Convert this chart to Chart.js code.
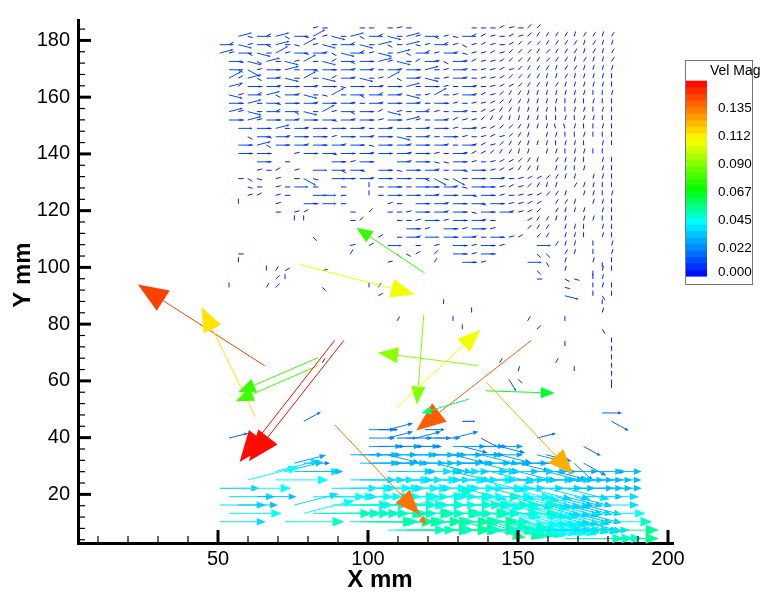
<!DOCTYPE html>
<html>
<head>
<meta charset="utf-8">
<title>Vel Mag</title>
<script src="https://cdn.jsdelivr.net/npm/chart.js@4.4.1/dist/chart.umd.min.js"></script>
<style>
  html, body { margin: 0; padding: 0; background: #fff; }
  #wrap { width: 765px; height: 598px; }
</style>
</head>
<body>
<div id="wrap"><canvas id="vec" width="765" height="598"></canvas></div>
<script>
// axes (mm)
const X_RANGE = [3.33, 201.67];
const Y_RANGE = [2.86, 187.2];
const X_TICKS = [50, 100, 150, 200];
const Y_TICKS = [20, 40, 60, 80, 100, 120, 140, 160, 180];
const X_MINOR = 10;
const Y_MINOR = 4;

// PIV grid nodes
const GRID_X0 = 50.57, GRID_DX = 3.11;
const GRID_Y0 = 184.4, GRID_DY = 2.95;

// direction codes -> degrees
const ANGLE_CODES = 'abcdefghijklmnopqr';
const ANGLE_DEG = [-75, -60, -45, -30, -15, 0, 15, 30, 45, 60, 75, 90, 105, 165, 180, -90, -105, 195];

// upper field: one char per node, lower case = slow, upper case = faster, '.' = no vector
const SLOW_MAG = 0.005;
const FAST_MAG = 0.012;
const TOP_ROWS = [
  '..........gf...ff.fgf......fffhgfii........',
  '..GeFhGdFeHgEfGdFhEfGgFdgeFhhgfhgijjjjkjjkj',
  'FhEgFdGfeHgEfFhEfGdfGegFhgdghgfhiiijjjjkjkk',
  'GgFdEfHgFeFgdEFhgEfGdFhgFgegghgiiijijjjkjkj',
  '.FeEdGfEgHfEhFdFfGgEfhFgdFghgghiijjijjkjkkj',
  '.FdDgFfGfFeFfFgFgfFgFfGfgFgfgghgijjjkjjkkkk',
  '.HhGdFgEfHfEhFgEfgHdFgEfgFgfgghiijjkkjkkkkl',
  '.GiFfFgFfFgFfeFfFgFfGfFfgfFgfghhijjkjkkkkkl',
  '.EgFhGdFgEfeHfFdFhFgEfgHfgFghgijjkkkkkkkllk',
  '.FfGfFeFfFgFfFgfFgFfFgfFfgfgghijjkkkklklkll',
  '.GgEfFhFdEfHgFdFfhEgfFhgfFgfhhjjkkkkllkklkl',
  '.FfGgFfFgFfFeFgFfgFfGgfFghggijjkkkkllklkkll',
  '..F.FfGfFgFfFfFgfFgFfFgFfgFgghiijkkkmmkllkl',
  '...dFeFgFfFfgFfFgFfEfFgfFfgfghgijk.kkllklll',
  '..FfGdFfFgFfFgFfeFfFgFfFgfFghgijjkkklkkl.kl',
  '..FfFf..gFfFeFfFgFfFgFfgfFghhijjkk.kklkkll.',
  '....Ff.f....FfgFf..FgFfeeFfgfghhijk.jkkl.kl',
  '....gfh.g.F.FdFe.FfeFfFgfFeFfghhjjk.kklk.kl',
  '..fde.g.fDe.FFfFgFfFfFdDeDfFfFgfghhijkk.kkl',
  '...ef.gfF.f..f..lfFffFFfFgeFFfghgijkk.jkkll',
  '...gh.gf..FF.f..lfFfFfFgFfFeFfgfgghijk.kklk',
  '..l...g..FfF.f....gf.FfFgFfFeFfgghh.jjk.kkl',
  '......f.gh....f.i.ffgFfFgFfeFfFgghi.jkkk.kl',
  '........ll....fi...ffgFfgFfFgf...hjjkk.kkll',
  '....................Ffg.FfgFfg...ijj.kkl.kl',
  '..........c......h.fFgF.FfFgfFfgh.ij.kkl.kl',
  '..............g.h.F..f.g.FfgFfg...F.jkk.l.k',
  '..f...........j....cdh.i.FfgFf....cc.jk.l.k',
  '..l...............g....j..Ffg....F.b.k..kpl',
  '.....ljh...g......................c..k..pkl',
  '......il..........................f..de.lk.',
  '.l...ji....c....lj...................e..lkl',
  '.................h...................E..lbl',
  '........................l................l.',
  '...........................l.............k.',
  '...................j.....l.......j...l.....',
  '..........................l.......i......b.',
  '..........................................p',
  '.....................................l....p',
  '..........................................p',
  '...........j..................j.....j.....p',
  '................................k.....l...p',
  '...............................Bc.........p',
  '..........................................l'
];

// lower field: rows from LOW_FIRST_ROW, one token per node = speed level (0-9) + direction code
const LOW_FIRST_ROW = 46;
const MAG_STEP = 0.0055;
const LOW_ROWS = [
  '.. .. .. .. .. .. .. .. .. ..  .. .. .. .. .. .. .. .. .. ..  .. .. .. .. .. .. .. .. .. ..  .. .. .. .. .. .. .. .. .. ..  .. 2f ..',
  '.. .. .. .. .. .. .. .. .. 2h  .. .. .. .. .. .. .. .. .. ..  .. .. 2f .. .. .. 1f .. .. ..  .. .. .. .. .. .. .. .. .. ..  .. .. 2d',
  '.. .. .. .. .. .. .. .. .. ..  .. .. .. .. .. .. 3f 2f 3g ..  .. .. 2f',
  '.. 2g .. .. .. .. .. .. .. ..  .. .. .. .. .. .. 3f .. 3g 2f  3f 3g 3f 3f .. 3g .. .. 2d ..  .. .. .. .. 2g',
  '.. .. .. .. .. .. .. .. .. ..  .. .. .. .. .. .. 4f 3f 4f 3f  4f 3f .. .. .. 4f 3e 4f 3f 4f  3e .. .. .. .. .. .. .. .. 2d',
  '.. .. .. .. .. .. .. .. .. ..  .. .. .. .. 4f 5f 4f 5f 4e 5f  4f 5f 5f 4f 5f 4e 5f 4f 5e 4f  4e .. .. .. 4e 3e',
  '.. .. .. .. .. .. .. .. 4g 3f  .. .. .. .. .. 5f 4f 5f 5f 4f  5f 5f 5f 5e 5f 5f 4f 5f 5e 5f  4f 5f 4e 4f 4f .. .. .. 3c 3d',
  '.. .. .. .. .. .. 6g 5g 6f 5f  .. .. .. .. .. .. .. .. 6f 5f  6f 6f 5f 6f 6f 5e 6f 6f 5f 6e  5f 6f 5e 5f 5f 5e 4e 4f .. 5f  4f 5f',
  '.. .. .. 7g .. .. 7f .. .. ..  .. .. .. .. 6f 6f 6f 7f 6f 6f  7f 6f 6f 7f 6f 6f 7f 6f 6e 6f  6f 6f 5f 6f 5f 6f 5f 5f 5f 5f  5f 5f',
  '5f .. 7f .. .. .. .. .. .. ..  .. .. 6f 7f 6f 7f 7f 6f 7f 7f  6f 7f 7f 6f 7f 7f 6e 7f 7f 6e  6f 7e 6f 6e 6f 6e 5f 6e 5f 5f  5f 5f',
  '.. 6f .. .. 5f .. .. .. .. ..  7f 7f 6f 7f 7f 7f 7f 8f 7f 7f  8f 7f 7f 8f 7f 7f 8f 7e 7f 7e  7f 6e 7e 6e 6e 6e 5e 5e 5e 5f  6f',
  '6f .. 5f .. .. .. .. .. 6g ..  .. .. 8f 7f 8f 8f 7f 8f 8f 7f  8f 8g 7f 8f 8f 8f 7f 8f 8f 7e  8f 7e 7e 7e 6e 6e 6e 5e 5e 5e  6f',
  '.. 7f .. .. .. .. .. .. .. 7g  8f 8f 8f 8f 8f 9f 8f 8f 9f 8f  8f 9f 8f 8f 9f 8f 8f 8e 8f 8e  8f 7e 7e 7e 7e 6e 6e 6e 5e 5e  7f',
  '6f .. .. .. .. .. .. 8f .. ..  .. .. .. .. 9f 8f 9f 9f 8f 9f  9f 8f 9f 9f 8f 9f 9e 8f 9e 8e  8e 8e 7e 7e 7e 7e 6e 6e 6e 5e  8f',
  '.. .. .. .. .. .. .. .. .. ..  .. .. .. .. .. .. .. .. 8f 8f  9f 8f 9f 9f 8f 9f 8f 9f 8f 8f  8f 7f 7f 7f 6f 6f 6f 6f 6f 6f  9f',
  '.. .. .. .. .. .. .. .. .. ..  .. .. .. .. .. .. .. .. .. ..  .. .. .. .. .. .. .. .. .. ..  .. .. .. .. .. .. .. 8f 8f 8f  9f'
];

// strong isolated vectors: tail (mm), extent (mm), speed (m/s)
const BIG_X   = [65.6, 62.5, 83.4, 83.4, 88.9, 92.0, 77.2, 118.9, 136.7, 118.6, 109.5, 154.5, 139.2, 133.7, 139.5, 88.9, 110.6];
const BIG_Y   = [65.3, 47.3, 68.2, 65.4, 74.3, 74.3, 101.0, 98.0, 65.4, 83.3, 50.6, 74.3, 56.5, 53.6, 59.5, 44.5, 20.7];
const BIG_DX  = [-42.3, -18.0, -26.7, -27.5, -31.7, -31.7, 38.4, -22.8, -33.4, -2.3, 28.0, -38.4, 23.0, -15.9, 28.9, 28.3, 9.0];
const BIG_DY  = [28.7, 38.7, -12.2, -12.6, -42.9, -42.6, -10.5, 16.0, 4.5, -31.6, 27.4, -31.8, -0.8, -5.0, -32.4, -31.5, -11.3];
const BIG_MAG = [0.145, 0.115, 0.078, 0.080, 0.155, 0.155, 0.108, 0.078, 0.092, 0.090, 0.108, 0.140, 0.066, 0.058, 0.125, 0.136, 0.136];

// vector length scale: mm of arrow per m/s
const VEC_SCALE = 400;

// colour map
const CMAP_VALUES = [0, 0.020, 0.044, 0.070, 0.110, 0.157];
const CMAP_COLORS = [[0, 0, 255], [0, 120, 255], [0, 255, 255], [0, 255, 0], [255, 255, 0], [255, 0, 0]];
const CMAP_MAX = 0.157;
const LEGEND_TITLE = 'Vel Mag';
const LEGEND_LEVELS = [0, 0.0225, 0.045, 0.0675, 0.09, 0.1125, 0.135];
const LEGEND_LABELS = ['0.000', '0.022', '0.045', '0.067', '0.090', '0.112', '0.135'];
const LEGEND_BANDS = 30;

const FONT = "'Liberation Sans', Arial, Helvetica, sans-serif";

function colorFor(v) {
    if (v <= CMAP_VALUES[0]) return `rgb(${CMAP_COLORS[0].join(',')})`;
    for (let k = 1; k < CMAP_VALUES.length; k++) {
        if (v <= CMAP_VALUES[k]) {
            const t = (v - CMAP_VALUES[k - 1]) / (CMAP_VALUES[k] - CMAP_VALUES[k - 1]);
            const a = CMAP_COLORS[k - 1], b = CMAP_COLORS[k];
            const c = a.map((ch, i) => Math.round(ch + (b[i] - ch) * t));
            return `rgb(${c.join(',')})`;
        }
    }
    return `rgb(${CMAP_COLORS[CMAP_COLORS.length - 1].join(',')})`;
}

function makeVec(x, y, mag, deg) {
    const a = deg * Math.PI / 180;
    const len = mag * VEC_SCALE;
    return { x, y, dx: len * Math.cos(a), dy: len * Math.sin(a), mag };
}

function buildVectors() {
    const out = [];
    TOP_ROWS.forEach((row, j) => {
        const y = GRID_Y0 - GRID_DY * j;
        [...row].forEach((c, i) => {
            if (c === '.') return;
            const lc = c.toLowerCase();
            const k = ANGLE_CODES.indexOf(lc);
            if (k < 0) return;
            out.push(makeVec(GRID_X0 + GRID_DX * i, y, c === lc ? SLOW_MAG : FAST_MAG, ANGLE_DEG[k]));
        });
    });
    LOW_ROWS.forEach((row, r) => {
        const y = GRID_Y0 - GRID_DY * (LOW_FIRST_ROW + r);
        row.trim().split(/\s+/).forEach((tok, i) => {
            if (tok === '..') return;
            const k = ANGLE_CODES.indexOf(tok[1]);
            if (k < 0) return;
            out.push(makeVec(GRID_X0 + GRID_DX * i, y, MAG_STEP * (+tok[0] + 1), ANGLE_DEG[k]));
        });
    });
    BIG_X.forEach((x, i) => {
        out.push({ x, y: BIG_Y[i], dx: BIG_DX[i], dy: BIG_DY[i], mag: BIG_MAG[i] });
    });
    return out;
}

const vectors = buildVectors();

function drawArrow(ctx, x0, y0, x1, y1, col) {
    const dx = x1 - x0, dy = y1 - y0;
    const len = Math.hypot(dx, dy);
    if (len < 0.5) return;
    const ux = dx / len, uy = dy / len;
    const hl = len * 0.2, hw = hl * 0.4;
    const bx = x1 - ux * hl, by = y1 - uy * hl;
    ctx.strokeStyle = col;
    ctx.fillStyle = col;
    ctx.beginPath();
    ctx.moveTo(x0, y0);
    ctx.lineTo(bx, by);
    ctx.stroke();
    ctx.beginPath();
    ctx.moveTo(x1, y1);
    ctx.lineTo(bx - uy * hw, by + ux * hw);
    ctx.lineTo(bx + uy * hw, by - ux * hw);
    ctx.closePath();
    ctx.fill();
}

// arrows, drawn through the chart scales
const vectorPlugin = {
    id: 'vectors',
    afterDatasetsDraw(chart) {
        const { ctx, scales: { x, y } } = chart;
        ctx.save();
        ctx.lineWidth = 1;
        vectors.forEach(v => {
            const x0 = x.getPixelForValue(v.x), y0 = y.getPixelForValue(v.y);
            const x1 = x.getPixelForValue(v.x + v.dx), y1 = y.getPixelForValue(v.y + v.dy);
            drawArrow(ctx, x0, y0, x1, y1, colorFor(v.mag));
        });
        ctx.restore();
    }
};

// inward tick marks, axis titles
const axisDecor = {
    id: 'axisDecor',
    afterDraw(chart) {
        const { ctx, chartArea: a, scales: { x, y } } = chart;
        ctx.save();
        ctx.strokeStyle = '#000';
        for (let v = X_MINOR; v <= X_RANGE[1]; v += X_MINOR) {
            const major = X_TICKS.includes(v);
            const px = x.getPixelForValue(v);
            ctx.lineWidth = major ? 3 : 1.2;
            ctx.beginPath();
            ctx.moveTo(px, a.bottom);
            ctx.lineTo(px, a.bottom - (major ? 13 : 7));
            ctx.stroke();
        }
        for (let v = Y_MINOR; v <= Y_RANGE[1]; v += Y_MINOR) {
            const major = Y_TICKS.includes(v);
            const py = y.getPixelForValue(v);
            ctx.lineWidth = major ? 3 : 1.2;
            ctx.beginPath();
            ctx.moveTo(a.left, py);
            ctx.lineTo(a.left + (major ? 13 : 7), py);
            ctx.stroke();
        }
        ctx.fillStyle = '#000';
        ctx.font = `bold 24px ${FONT}`;
        ctx.textAlign = 'center';
        ctx.textBaseline = 'alphabetic';
        ctx.fillText('X mm', 380, 587);
        ctx.translate(30, 275);
        ctx.rotate(-Math.PI / 2);
        ctx.fillText('Y mm', 0, 0);
        ctx.restore();
    }
};

// colour legend
const legendPlugin = {
    id: 'velLegend',
    afterDraw(chart) {
        const ctx = chart.ctx;
        const barTop = 80.7, barBot = 276, barL = 686, barW = 21;
        ctx.save();
        ctx.strokeStyle = '#777';
        ctx.lineWidth = 1;
        ctx.strokeRect(685.5, 60.5, 67, 224);
        for (let k = 0; k < LEGEND_BANDS; k++) {
            const v = CMAP_MAX * (k + 0.5) / LEGEND_BANDS;
            const y0 = barBot - (barBot - barTop) * (k + 1) / LEGEND_BANDS;
            const y1 = barBot - (barBot - barTop) * k / LEGEND_BANDS;
            ctx.fillStyle = colorFor(v);
            ctx.fillRect(barL, y0, barW, y1 - y0 + 0.6);
        }
        ctx.fillStyle = '#000';
        ctx.font = `14px ${FONT}`;
        ctx.textAlign = 'left';
        ctx.textBaseline = 'alphabetic';
        ctx.fillText(LEGEND_TITLE, 710, 75);
        ctx.font = `13.5px ${FONT}`;
        ctx.textBaseline = 'middle';
        LEGEND_LEVELS.forEach((lv, i) => {
            let py = barBot - (barBot - barTop) * lv / CMAP_MAX;
            py = Math.min(py, barBot - 4);
            ctx.fillText(LEGEND_LABELS[i], 718, py);
        });
        ctx.restore();
    }
};

const tickFont = { family: FONT, size: 20 };

new Chart(document.getElementById('vec'), {
    type: 'scatter',
    data: { datasets: [] },
    options: {
        responsive: false,
        animation: false,
        layout: { padding: { left: 0, right: 92, top: 5, bottom: 0 } },
        plugins: { legend: { display: false }, tooltip: { enabled: false } },
        scales: {
            x: {
                type: 'linear',
                min: X_RANGE[0],
                max: X_RANGE[1],
                afterBuildTicks: s => { s.ticks = X_TICKS.map(v => ({ value: v })); },
                afterFit: s => { s.height = 55; },
                grid: { display: false, drawTicks: false },
                border: { display: true, color: '#000', width: 3 },
                ticks: { color: '#000', font: tickFont, padding: 4, maxRotation: 0, autoSkip: false }
            },
            y: {
                type: 'linear',
                min: Y_RANGE[0],
                max: Y_RANGE[1],
                afterBuildTicks: s => { s.ticks = Y_TICKS.map(v => ({ value: v })); },
                afterFit: s => { s.width = 78; },
                grid: { display: false, drawTicks: false },
                border: { display: true, color: '#000', width: 3 },
                ticks: { color: '#000', font: tickFont, padding: 8, autoSkip: false }
            }
        }
    },
    plugins: [vectorPlugin, axisDecor, legendPlugin]
});
</script>
</body>
</html>
